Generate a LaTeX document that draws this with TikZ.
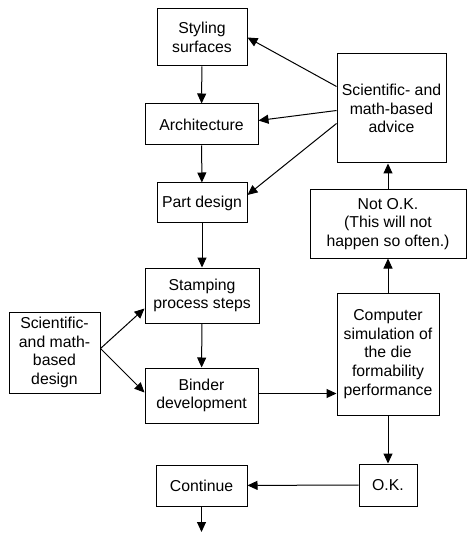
\documentclass[tikz,border=0pt]{standalone}
\usepackage{fontspec}
\setmainfont{Liberation Sans}
\usetikzlibrary{arrows.meta}
\tikzset{
  box/.style={draw, line width=1pt, align=center, inner sep=0pt,
              font=\fontsize{15.8}{18.8}\selectfont},
  flow/.style={line width=1pt, -{Triangle[length=10pt,width=9pt]}}
}

\begin{document}
\begin{tikzpicture}[x=1pt,y=-1pt]
  \useasboundingbox (0,0) rectangle (466,534);
  % main column
  \node[box, minimum width=90pt, minimum height=57pt] (styling) at (202,37.5) {Styling\\surfaces};
  \node[box, minimum width=113pt, minimum height=41pt] (arch) at (201.5,124.5) {Architecture};
  \node[box, minimum width=90pt, minimum height=40pt] (part) at (202,203) {Part design};
  \node[box, minimum width=114pt, minimum height=55pt] (stamping) at (202,295.5) {Stamping\\process steps};
  \node[box, minimum width=113pt, minimum height=55pt] (binder) at (201.5,395.5) {Binder\\development};
  \node[box, minimum width=91pt, minimum height=41pt] (continue) at (201.5,485.5) {Continue};
  \coordinate (out) at (201.5,532);
  % left input
  \node[box, minimum width=91pt, minimum height=81pt] (design) at (54.5,352.5) {Scientific-\\and math-\\based\\design};
  % right column
  \node[box, minimum width=109pt, minimum height=109pt] (advice) at (391.5,108.5) {Scientific- and\\math-based\\advice};
  \node[box, minimum width=156pt, minimum height=68pt] (notok) at (388,224) {Not O.K.\\(This will not\\happen so often.)};
  \node[box, minimum width=102pt, minimum height=122pt] (computer) at (388,354) {Computer\\simulation of\\the die\\formability\\performance};
  \node[box, minimum width=58pt, minimum height=42pt] (ok) at (388,485) {O.K.};

  \draw[flow] (styling) -- (arch);
  \draw[flow] (arch) -- (part);
  \draw[flow] (part) -- (stamping);
  \draw[flow] (stamping) -- (binder);
  \draw[flow] (continue) -- (out);
  \draw[flow] ([yshift=4pt]design.east) -- ([yshift=-13pt]stamping.west);
  \draw[flow] ([yshift=4pt]design.east) -- ([yshift=3pt]binder.west);
  \draw[flow] ([yshift=2pt]binder.east) -- ([yshift=2pt]binder.east -| computer.west);
  \draw[flow] (computer) -- (ok);
  \draw[flow] (ok) -- (continue);
  \draw[flow] (computer) -- (notok);
  \draw[flow] (notok.north) -- (notok.north |- advice.south);
  % advice back to the design steps
  \draw[flow] ([yshift=22pt]advice.west) -- (styling.east);
  \draw[flow] ([yshift=-2pt]advice.west) -- (arch.4);
  \draw[flow] ([yshift=-15pt]advice.west) -- (part.10);
\end{tikzpicture}
\end{document}
